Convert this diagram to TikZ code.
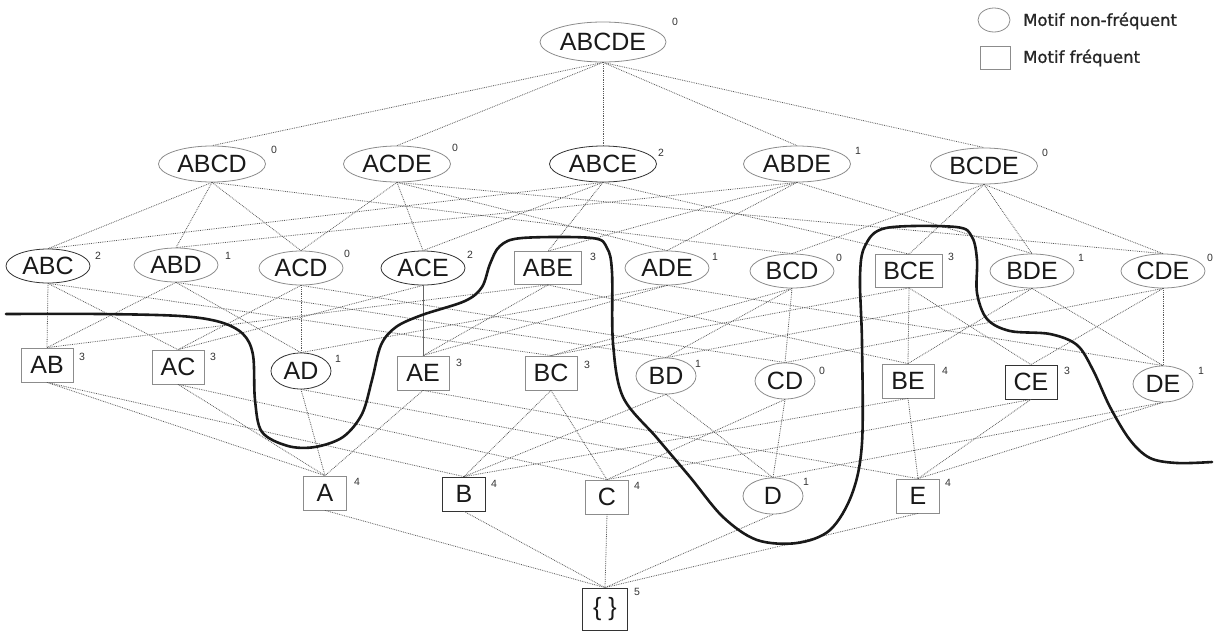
\documentclass[tikz,border=0pt]{standalone}
\usepackage{fontspec}
\setmainfont{Liberation Sans}
\newfontfamily\legfont{DejaVu Sans}[FakeBold=1.2]
\usetikzlibrary{shapes.geometric}
\begin{document}
\begin{tikzpicture}[x=1pt,y=-1pt,
 base/.style={font=\fontsize{25}{25}\selectfont, text=black!90, inner sep=0pt, line width=0.8pt},
 ell/.style={base, ellipse, draw=black!45},
 e5/.style={ell, minimum width=126pt, minimum height=40pt},
 e4/.style={ell, minimum width=107pt, minimum height=36pt},
 e3/.style={ell, minimum width=84pt, minimum height=34pt},
 e2/.style={ell, minimum width=60pt, minimum height=36pt},
 bx/.style={base, rectangle, draw=black!45},
 b3/.style={bx, minimum width=67pt, minimum height=33pt},
 b2/.style={bx, minimum width=52pt, minimum height=34pt},
 b1/.style={bx, minimum width=43pt, minimum height=34pt},
 dark/.style={draw=black!80},
 sup/.style={font=\fontsize{10.5}{10.5}\selectfont, text=black!80, inner sep=0pt},
 edge/.style={draw=black!65, densely dotted, line width=0.8pt},
 border/.style={line width=2.6pt, draw=black!90, line cap=round, line join=round}]
\useasboundingbox (0,0) rectangle (1215,635);
% level 5
\node[e5] (ABCDE) at (603,42) {ABCDE};
% level 4
\node[e4] (ABCD) at (212,164) {ABCD};
\node[e4] (ACDE) at (397,164) {ACDE};
\node[e4,dark] (ABCE) at (603,164) {ABCE};
\node[e4] (ABDE) at (797,164) {ABDE};
\node[e4] (BCDE) at (984,166) {BCDE};
% level 3
\node[e3,dark] (ABC) at (48,266) {ABC};
\node[e3] (ABD) at (176,265) {ABD};
\node[e3] (ACD) at (301,268) {ACD};
\node[e3,dark] (ACE) at (423,268) {ACE};
\node[b3] (ABE) at (548,268) {ABE};
\node[e3] (ADE) at (667,268) {ADE};
\node[e3] (BCD) at (792,271) {BCD};
\node[b3] (BCE) at (909,271) {BCE};
\node[e3] (BDE) at (1032,271) {BDE};
\node[e3] (CDE) at (1163,271) {CDE};
% level 2
\node[b2] (AB) at (47,365) {AB};
\node[b2] (AC) at (178,367) {AC};
\node[e2,dark] (AD) at (301,371) {AD};
\node[b2] (AE) at (423,373) {AE};
\node[b2] (BC) at (551,373) {BC};
\node[e2] (BD) at (666,376) {BD};
\node[e2] (CD) at (785,381) {CD};
\node[b2] (BE) at (908,381) {BE};
\node[b2,dark] (CE) at (1031,382) {CE};
\node[e2] (DE) at (1163,384) {DE};
% level 1
\node[b1] (A) at (325,493) {A};
\node[b1,dark] (B) at (464,494) {B};
\node[b1] (C) at (607,497) {C};
\node[e2] (D) at (773,496) {D};
\node[b1] (E) at (918,496) {E};
% level 0
\node[bx,dark,minimum width=45pt,minimum height=42pt] (empty) at (605,609) {\{ \}};
% supports
\foreach \n/\v/\x/\y in {ABCDE/0/675/22, ABCD/0/274/150, ACDE/0/455/148, ABCE/2/661/153, ABDE/1/858/151, BCDE/0/1045/153,
  ABC/2/98/256, ABD/1/228/256, ACD/0/347/254, ACE/2/470/255, ABE/3/593/257, ADE/1/715/257, BCD/0/839/258, BCE/3/951/257, BDE/1/1081/258, CDE/0/1210/258,
  AB/3/82/357, AC/3/213/357, AD/1/338/359, AE/3/459/363, BC/3/587/365, BD/1/698/364, CD/0/822/371, BE/4/945/371, CE/3/1067/371, DE/1/1201/371,
  A/4/357/482, B/4/494/484, C/4/637/486, D/1/806/482, E/4/948/483, empty/5/637/592}
  \node[sup] (s\n) at (\x,\y) {\v};
% edges
\foreach \a/\b in {ABCDE/ABCD, ABCDE/ACDE, ABCDE/ABCE, ABCDE/ABDE, ABCDE/BCDE,
  ABCD/ABC, ABCD/ABD, ABCD/ACD, ABCD/BCD,
  ACDE/ACD, ACDE/ACE, ACDE/ADE, ACDE/CDE,
  ABCE/ABC, ABCE/ABE, ABCE/ACE, ABCE/BCE,
  ABDE/ABD, ABDE/ABE, ABDE/ADE, ABDE/BDE,
  BCDE/BCD, BCDE/BCE, BCDE/BDE, BCDE/CDE,
  ABC/AB, ABC/AC, ABC/BC, ABD/AB, ABD/AD, ABD/BD, ACD/AC, ACD/AD, ACD/CD,
  ACE/AC, ABE/AB, ABE/AE, ABE/BE, ADE/AD, ADE/AE, ADE/DE,
  BCD/BC, BCD/BD, BCD/CD, BCE/BC, BCE/BE, BCE/CE, BDE/BD, BDE/BE, BDE/DE,
  CDE/CD, CDE/CE, CDE/DE,
  AB/A, AB/B, AC/A, AC/C, AD/A, AD/D, AE/A, AE/E, BC/B, BC/C, BD/B, BD/D,
  CD/C, CD/D, BE/B, BE/E, CE/C, CE/E, DE/D, DE/E,
  A/empty, B/empty, C/empty, D/empty, E/empty}
  \draw[edge] (\a.south) -- (\b.north);
\draw[draw=black!60, line width=0.8pt] (ACE.south) -- (AE.north);
% border
\draw[border] plot[smooth, tension=0.55] coordinates {
 (6,314) (100,314) (180,316) (220,322) (243,334) (253,355) (255,400) (262,432) (288,446) (315,447)
 (343,437) (362,414) (372,380) (381,345) (396,327) (422,315) (465,301) (482,287) (490,264) (500,246)
 (522,238) (592,238) (607,248) (612,272) (613,343) (623,397) (657,438) (690,477) (723,517) (757,540)
 (797,543) (830,530) (852,494) (862,443) (862,343) (860,277) (865,246) (886,228) (956,227) (972,237)
 (977,260) (977,293) (987,319) (1010,331) (1050,334) (1077,345) (1093,370) (1110,407) (1130,440)
 (1150,458) (1177,463) (1212,462)};
% legend
\node[ell, minimum width=32pt, minimum height=24pt] (legE) at (994,20) {};
\node[bx, minimum width=30pt, minimum height=23pt] (legB) at (995,58) {};
\node[anchor=west, inner sep=0pt, text=black!85, font=\legfont\fontsize{16.5}{16.5}\selectfont] (legT1) at (1023,21) {Motif non-fréquent};
\node[anchor=west, inner sep=0pt, text=black!85, font=\legfont\fontsize{16.5}{16.5}\selectfont] (legT2) at (1023,58) {Motif fréquent};
\end{tikzpicture}
\end{document}
